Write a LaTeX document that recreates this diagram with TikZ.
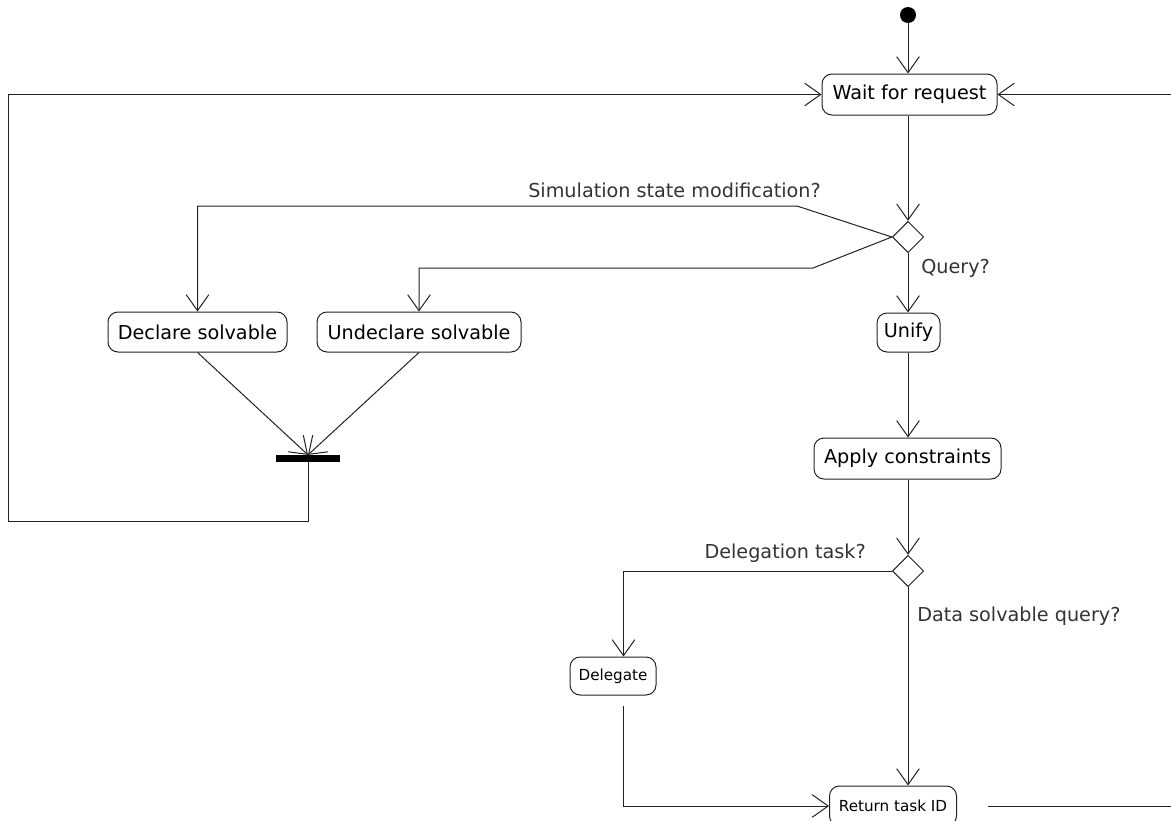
\documentclass[tikz,border=0pt]{standalone}
\usepackage{fontspec}
\setmainfont{DejaVu Sans}
\usetikzlibrary{arrows.meta,shapes.geometric,calc}
\definecolor{linegray}{HTML}{222222}
\definecolor{labelgray}{HTML}{333333}
\begin{document}
\begin{tikzpicture}[x=0.75pt,y=-0.75pt,
  flow/.style={draw=linegray,line width=0.75pt,
    -{Straight Barb[length=12pt,width=17pt,line width=0.75pt]}},
  plain/.style={draw=linegray,line width=0.75pt},
  action/.style={draw=linegray,line width=0.75pt,rounded corners=7.5pt,
    inner sep=0pt,align=center,font=\fontsize{14.4}{16}\selectfont},
  smallaction/.style={action,font=\fontsize{11.4}{13}\selectfont},
  decision/.style={draw=linegray,line width=0.75pt,diamond,fill=white,
    inner sep=0pt,minimum width=23.5pt,minimum height=23.5pt},
  guard/.style={text=labelgray,inner sep=0pt,font=\fontsize{14.4}{16}\selectfont},
]
\useasboundingbox (0,0) rectangle (1171,821);

% initial state
\node[circle,fill=black,inner sep=0pt,minimum size=12pt] (start) at (908,15) {};

% actions
\node[action,minimum width=131.25pt,minimum height=30.75pt] (wait) at (909.5,94.5) {Wait for request};
\node[action,minimum width=134.25pt,minimum height=30pt] (decl) at (197.5,332) {Declare solvable};
\node[action,minimum width=153pt,minimum height=30pt] (undecl) at (419,332) {Undeclare solvable};
\node[action,minimum width=47.25pt,minimum height=29.25pt] (unify) at (908.5,332.5) {Unify};
\node[action,minimum width=140.25pt,minimum height=30.75pt] (apply) at (907.5,458.5) {Apply constraints};
\node[smallaction,minimum width=64.5pt,minimum height=28.5pt] (del) at (613,676) {Delegate};
\node[smallaction,minimum width=95.25pt,minimum height=30pt] (ret) at (893,806) {Return task ID};

% decisions and join bar
\node[decision] (d1) at (908,237) {};
\node[decision] (d2) at (908,571) {};
\node[fill=black,inner sep=0pt,minimum width=48pt,minimum height=5pt] (join) at (308,458.5) {};

% guards
\node[guard,anchor=east] (gsim) at (821,190) {Simulation state modification?};
\node[guard,anchor=west] (gquery) at (921,268) {Query?};
\node[guard,anchor=east] (gdel) at (866,553) {Delegation task?};
\node[guard,anchor=west] (gdata) at (917,616) {Data solvable query?};

% helper points for the routed connectors
\coordinate (simbend) at (797,206);
\coordinate (undbend) at (813,268);
\coordinate (loopcorner) at (8,521.5);
\coordinate (delin) at ($(del.north)+(10.5,0)$);
\coordinate (delout) at ($(del.south)+(10.5,10)$);
\coordinate (retout) at ($(ret.east)+(31,0)$);
\coordinate (rightcorner) at (1175,806);

% main flow
\draw[flow] (start) -- (start |- wait.north);
\draw[flow] (wait.south -| d1.north) -- (d1.north);
\draw[flow] (d1.west) -- (simbend) -| (decl.north);
\draw[flow] (d1.west) -- (undbend) -| (undecl.north);
\draw[flow] (d1.south) -- (d1.south |- unify.north);
\draw[flow] (decl.south) -- (join.north);
\draw[flow] (undecl.south) -- (join.north);
\draw[flow] (join.south) |- (loopcorner) |- (wait.west);
\draw[flow] (unify.south -| d1) -- (d1 |- apply.north);
\draw[flow] (apply.south -| d2) -- (d2.north);
\draw[flow] (d2.west) -| (delin);
\draw[flow] (d2.south) -- (d2.south |- ret.north);
\draw[flow] (delout) |- (ret.west);
\draw[flow] (retout) -- (rightcorner) |- (wait.east);
\end{tikzpicture}
\end{document}
